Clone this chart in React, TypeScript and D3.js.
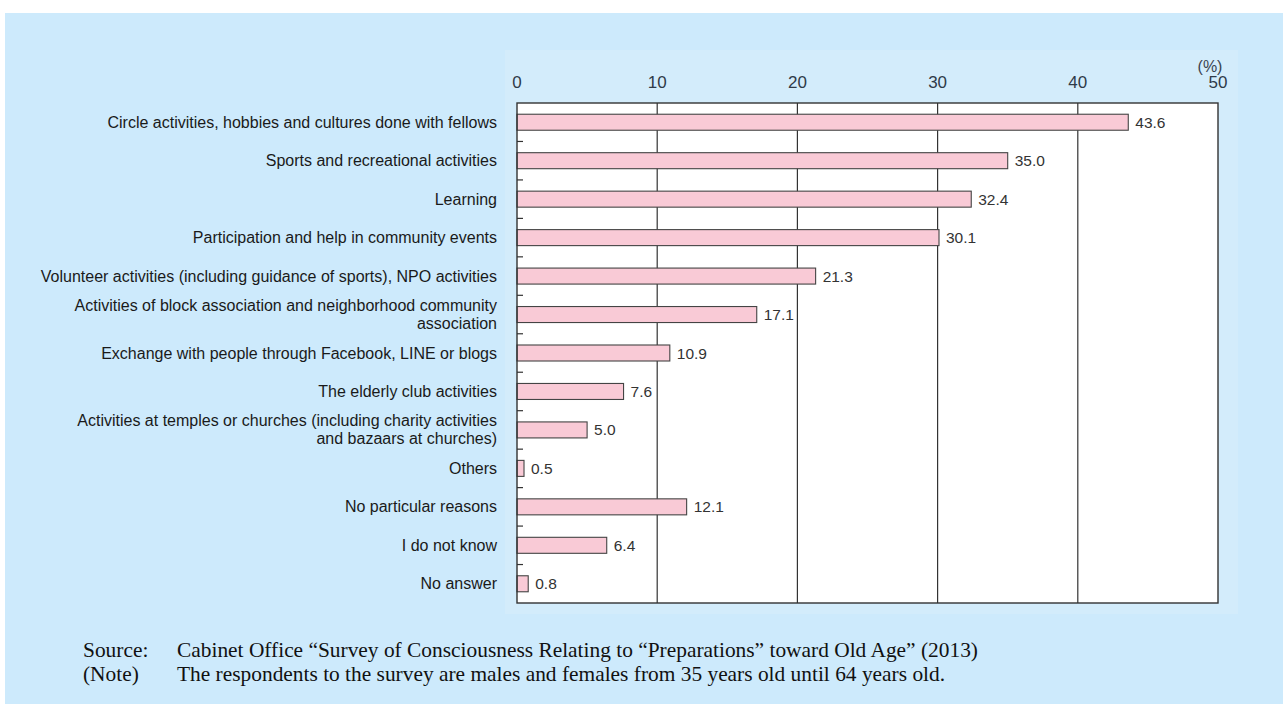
import React from "react";
import * as d3 from "d3";

const categories: string[] = [
  "Circle activities, hobbies and cultures done with fellows",
  "Sports and recreational activities",
  "Learning",
  "Participation and help in community events",
  "Volunteer activities (including guidance of sports), NPO activities",
  "Activities of block association and neighborhood community\nassociation",
  "Exchange with people through Facebook, LINE or blogs",
  "The elderly club activities",
  "Activities at temples or churches (including charity activities\nand bazaars at churches)",
  "Others",
  "No particular reasons",
  "I do not know",
  "No answer",
];
const values: number[] = [43.6, 35.0, 32.4, 30.1, 21.3, 17.1, 10.9, 7.6, 5.0, 0.5, 12.1, 6.4, 0.8];
const ticks: number[] = [0, 10, 20, 30, 40, 50];
const unitLabel = "(%)";
const footLabels: string[] = ["Source:", "(Note)"];
const footTexts: string[] = [
  "Cabinet Office \u201CSurvey of Consciousness Relating to \u201CPreparations\u201D toward Old Age\u201D (2013)",
  "The respondents to the survey are males and females from 35 years old until 64 years old.",
];

const W = 1283;
const H = 704;
const plot = { left: 517, right: 1218, top: 103, bottom: 603 };

export default function App() {
  const x = d3.scaleLinear().domain([0, 50]).range([plot.left, plot.right]);
  const y = d3
    .scaleBand<number>()
    .domain(d3.range(categories.length))
    .range([plot.top, plot.bottom])
    .paddingInner(0.584)
    .paddingOuter(0.292);
  const band = (plot.bottom - plot.top) / categories.length;
  const sans = "'Liberation Sans', Arial, Helvetica, sans-serif";
  const serif = "'Liberation Serif', 'Times New Roman', serif";

  return (
    <svg
      width={W}
      height={H}
      viewBox={`0 0 ${W} ${H}`}
      style={{ position: "absolute", left: 0, top: 0, display: "block" }}
    >
      <rect x={0} y={0} width={W} height={H} fill="#ffffff" />
      <rect x={5} y={13} width={W - 5} height={H - 13} fill="#cdeafc" />
      <rect x={505} y={50} width={733} height={564} fill="#d3ecfb" />

      {/* tick labels */}
      {ticks.map((t) => (
        <text
          key={t}
          x={x(t)}
          y={88}
          textAnchor="middle"
          fontFamily={sans}
          fontSize={17}
          fill="#2f3a48"
        >
          {t}
        </text>
      ))}
      <text x={x(50) - 8} y={72} textAnchor="middle" fontFamily={sans} fontSize={16} fill="#3a4450">
        {unitLabel}
      </text>

      {/* plot area */}
      <rect
        x={plot.left}
        y={plot.top}
        width={plot.right - plot.left}
        height={plot.bottom - plot.top}
        fill="#ffffff"
      />
      {ticks.slice(1, -1).map((t) => (
        <line
          key={t}
          x1={x(t)}
          x2={x(t)}
          y1={plot.top}
          y2={plot.bottom}
          stroke="#333"
          strokeWidth={1.2}
        />
      ))}

      {/* row ticks */}
      {d3.range(1, categories.length).map((i) => (
        <line
          key={i}
          x1={plot.left}
          x2={plot.left + 6}
          y1={plot.top + band * i}
          y2={plot.top + band * i}
          stroke="#333"
          strokeWidth={1.2}
        />
      ))}

      {/* bars */}
      {values.map((v, i) => (
        <rect
          key={i}
          x={x(0)}
          y={y(i)!}
          width={x(v) - x(0)}
          height={y.bandwidth()}
          fill="#f9cad6"
          stroke="#444"
          strokeWidth={1.1}
        />
      ))}
      {values.map((v, i) => (
        <text
          key={i}
          x={x(v) + 7}
          y={y(i)! + y.bandwidth() / 2 + 5.5}
          fontFamily={sans}
          fontSize={15.5}
          fill="#333"
        >
          {v.toFixed(1)}
        </text>
      ))}

      <rect
        x={plot.left}
        y={plot.top}
        width={plot.right - plot.left}
        height={plot.bottom - plot.top}
        fill="none"
        stroke="#333"
        strokeWidth={1.4}
      />

      {/* category labels */}
      {categories.map((c, i) => {
        const lines = c.split("\n");
        const cy = y(i)! + y.bandwidth() / 2;
        const lh = 18;
        const start = cy - ((lines.length - 1) * lh) / 2;
        return (
          <text
            key={i}
            x={497}
            textAnchor="end"
            fontFamily={sans}
            fontSize={16}
            fill="#1a1a1a"
          >
            {lines.map((l, j) => (
              <tspan key={j} x={497} y={start + j * lh + 5.5}>
                {l}
              </tspan>
            ))}
          </text>
        );
      })}

      {/* footer */}
      {footLabels.map((l, i) => (
        <text key={l} x={83} y={657 + i * 24} fontFamily={serif} fontSize={21.4} fill="#111">
          {l}
        </text>
      ))}
      {footTexts.map((l, i) => (
        <text key={i} x={177} y={657 + i * 24} fontFamily={serif} fontSize={21.4} fill="#111">
          {l}
        </text>
      ))}
    </svg>
  );
}
